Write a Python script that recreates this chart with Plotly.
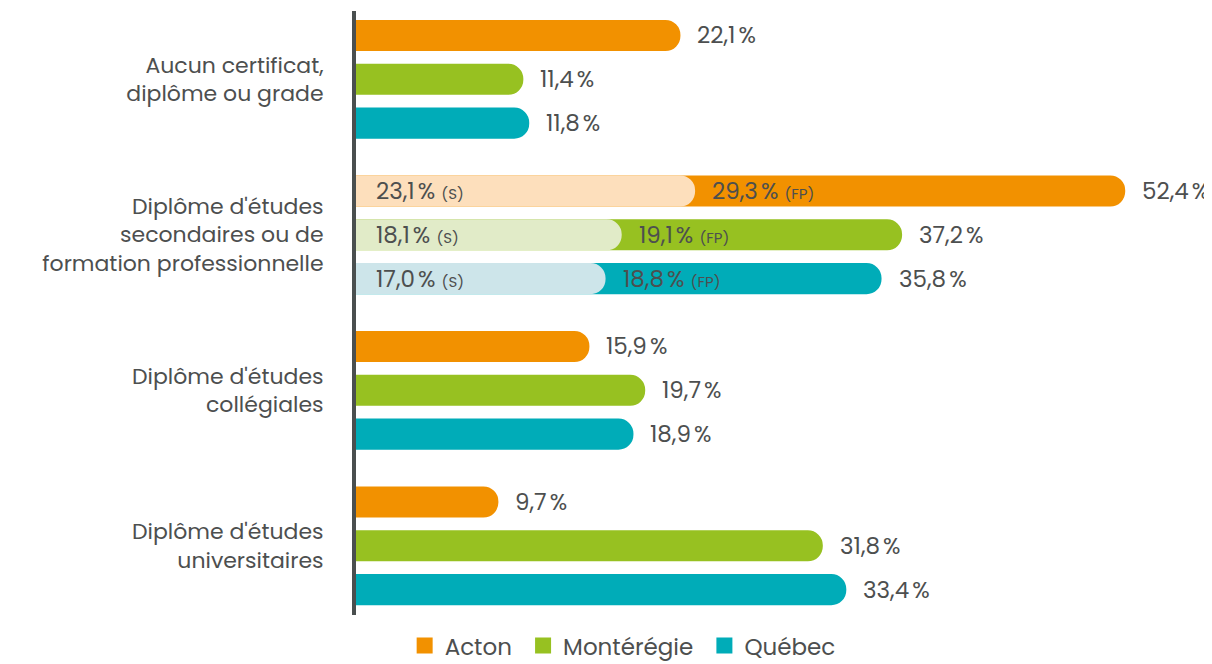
import plotly.graph_objects as go

# Scolarité - données (%)
categories = [
    "Aucun certificat,<br>diplôme ou grade",
    "Diplôme d'études<br>secondaires ou de<br>formation professionnelle",
    "Diplôme d'études<br>collégiales",
    "Diplôme d'études<br>universitaires",
]
series_names = ["Acton", "Montérégie", "Québec"]
acton = [22.1, 52.4, 15.9, 9.7]
monteregie = [11.4, 37.2, 19.7, 31.8]
quebec = [11.8, 35.8, 18.9, 33.4]

# détail du secondaire : (S) secondaire, (FP) formation professionnelle
secondaire_s = [23.1, 18.1, 17.0]
secondaire_fp = [29.3, 19.1, 18.8]

colors = ["#F29100", "#97C121", "#00ACB8"]
light_colors = ["#FDDFBC", "#E1EBC8", "#CDE5EA"]
text_color = "#4D4F4F"
FONT = "Poppins, Inter, 'Open Sans', sans-serif"

GROUP_STEP = 3.55
BAR_W = 0.71
Y_RANGE = [13.23, -0.559]


def fmt(v):
    return f"{v:.1f}".replace(".", ",") + "\u202f%"


def row_pos(g, k):
    return g * GROUP_STEP + k


fig = go.Figure()
annotations = []

all_values = [acton, monteregie, quebec]
for k, (name, vals) in enumerate(zip(series_names, all_values)):
    ys = [row_pos(g, k) for g in range(len(categories))]
    fig.add_trace(go.Bar(
        x=vals, y=ys, orientation="h", width=BAR_W,
        marker=dict(color=colors[k], line=dict(width=0)),
        showlegend=False, hoverinfo="x",
    ))
    for v, y in zip(vals, ys):
        annotations.append(dict(
            x=v, y=y, xref="x", yref="y", text=fmt(v), showarrow=False,
            xanchor="left", xshift=15, font=dict(size=23, color=text_color),
        ))

# barres pâles (S) par-dessus la barre du secondaire (axe superposé)
for k in range(3):
    y = row_pos(1, k)
    fig.add_trace(go.Bar(
        x=[secondaire_s[k]], y=[y], orientation="h", width=BAR_W,
        marker=dict(color=light_colors[k], line=dict(width=0)),
        yaxis="y2", showlegend=False, hoverinfo="x",
    ))
    annotations.append(dict(
        x=0, y=y, xref="x", yref="y", showarrow=False, xanchor="left", xshift=18,
        text=fmt(secondaire_s[k]) + " <span style='font-size:15px'>(S)</span>",
        font=dict(size=23, color=text_color),
    ))
    annotations.append(dict(
        x=secondaire_s[k], y=y, xref="x", yref="y", showarrow=False,
        xanchor="left", xshift=15,
        text=fmt(secondaire_fp[k]) + " <span style='font-size:15px'>(FP)</span>",
        font=dict(size=23, color=text_color),
    ))

# légende (carrés)
for k, name in enumerate(series_names):
    fig.add_trace(go.Scatter(
        x=[None], y=[None], mode="markers", name=name + "\u00a0",
        marker=dict(symbol="square", size=16, color=colors[k]),
    ))

group_centers = [row_pos(g, 1) for g in range(len(categories))]

# la page ajoute une petite marge autour de la figure
fig.update_layout(
    width=1204, height=656,
    margin=dict(l=348, r=18, t=3, b=49, autoexpand=False),
    paper_bgcolor="white", plot_bgcolor="white",
    barmode="overlay", barcornerradius=15,
    font=dict(family=FONT, color=text_color),
    annotations=annotations,
    showlegend=True,
    legend=dict(
        orientation="h", xref="container", yref="container",
        x=0.513, xanchor="center", y=0.028, yanchor="middle",
        font=dict(size=23, color=text_color), itemsizing="trace",
        itemwidth=30, tracegroupgap=0,
    ),
    xaxis=dict(
        range=[0, 838 / 14.68], showgrid=False, zeroline=False,
        showticklabels=False, showline=False, fixedrange=True,
        automargin=False,
    ),
    yaxis=dict(
        range=Y_RANGE, tickvals=group_centers, ticktext=categories,
        showgrid=False, zeroline=False, ticks="", showline=True,
        linecolor="#4A4F4F", linewidth=4, ticklabelstandoff=24,
        tickfont=dict(size=22, color=text_color), automargin=False,
    ),
    yaxis2=dict(
        range=Y_RANGE, overlaying="y", visible=False, automargin=False,
    ),
)

fig.write_html("out.html")
